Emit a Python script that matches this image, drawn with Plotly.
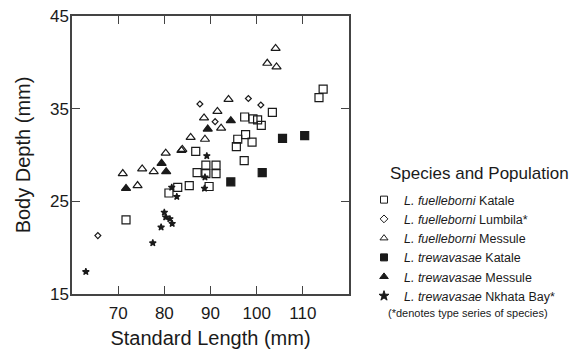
import plotly.graph_objects as go

# ---- data ----
fk_x = [71.7, 81.0, 82.9, 85.4, 86.8, 87.1, 89.0, 89.0, 91.2, 91.2, 89.7, 97.3,
        95.6, 95.9, 97.6, 99.0, 97.4, 99.2, 100.2, 101.0, 103.4, 113.5, 114.4]
fk_y = [23.0, 25.9, 26.5, 26.7, 30.4, 28.1, 28.9, 28.0, 28.9, 28.0, 26.6, 29.4,
        30.9, 31.7, 32.2, 31.4, 34.1, 33.9, 33.8, 33.2, 34.6, 36.2, 37.1]

fl_x = [65.6, 87.7, 91.0, 98.2, 100.9]
fl_y = [21.3, 35.5, 33.6, 36.1, 35.4]

fm_x = [104.1, 102.3, 104.3, 93.9, 91.5, 88.6, 92.3, 85.7, 88.8, 83.7, 83.9,
        80.3, 71.0, 75.2, 77.7, 74.2]
fm_y = [41.5, 39.9, 39.5, 36.0, 34.7, 34.0, 32.9, 31.9, 31.7, 30.5, 30.6,
        30.2, 28.0, 28.5, 28.2, 26.7]

tk_x = [94.4, 101.2, 105.6, 110.4]
tk_y = [27.1, 28.1, 31.8, 32.1]

tm_x = [71.7, 79.4, 80.4, 89.4, 94.4]
tm_y = [26.4, 29.1, 28.2, 32.8, 33.7]

tn_x = [63.0, 77.5, 79.3, 80.0, 80.3, 81.2, 81.7, 81.6, 82.7, 89.2, 88.8, 88.7]
tn_y = [17.4, 20.5, 22.2, 23.8, 23.3, 23.1, 22.6, 26.5, 25.5, 29.9, 27.6, 26.4]

names = ["<i>L. fuelleborni</i> Katale",
         "<i>L. fuelleborni</i> Lumbila*",
         "<i>L. fuelleborni</i> Messule",
         "<i>L. trewavasae</i> Katale",
         "<i>L. trewavasae</i> Messule",
         "<i>L. trewavasae</i> Nkhata Bay*"]

x_ticks = [70, 80, 90, 100, 110]
y_ticks = [15, 25, 35, 45]

FONT = "Liberation Sans, Arial, Helvetica, sans-serif"
INK = "#1a1a1a"

series = [
    (fk_x, fk_y, "square-open", 8, 7),
    (fl_x, fl_y, "diamond-open", 4.5, 6),
    (fm_x, fm_y, "triangle-up-open", 8, 7),
    (tk_x, tk_y, "square", 8, 7),
    (tm_x, tm_y, "triangle-up", 8, 7.5),
    (tn_x, tn_y, "star", 5, 7.5),
]

fig = go.Figure()
for (xs, ys, sym, size, lsize), nm in zip(series, names):
    fig.add_trace(go.Scatter(
        x=xs, y=ys, mode="markers", showlegend=False, hoverinfo="x+y",
        marker=dict(symbol=sym, size=size, color=INK, line=dict(color=INK, width=1.2)),
    ))
# legend-only entries (glyph sizes as in the reference legend)
for (xs, ys, sym, size, lsize), nm in zip(series, names):
    fig.add_trace(go.Scatter(
        x=[None], y=[None], mode="markers", name=nm, showlegend=True,
        marker=dict(symbol=sym, size=lsize, color=INK, line=dict(color=INK, width=1)),
    ))

axis_common = dict(
    showline=True, linecolor="#444", linewidth=1.5, mirror="ticks",
    ticks="inside", ticklen=8, tickwidth=1, tickcolor="#444",
    showgrid=False, zeroline=False,
    tickfont=dict(family=FONT, size=17, color=INK),
)

fig.update_xaxes(range=[60, 120], tickvals=x_ticks, **axis_common, ticklabelstandoff=3,
                 title=dict(text="Standard Length (mm)", font=dict(family=FONT, size=20, color=INK), standoff=9))
fig.update_yaxes(range=[15, 45], tickvals=y_ticks, **axis_common, ticklabelstandoff=-2,
                 title=dict(text="Body Depth (mm)", font=dict(family=FONT, size=20, color=INK), standoff=14))

def px2x(px):
    return (px - 72) / 277.0

def py2y(py):
    return (294 - py) / 278.0

fig.update_layout(
    width=580, height=351,
    margin=dict(l=72, r=231, t=16, b=57, autoexpand=False),
    paper_bgcolor="white", plot_bgcolor="white",
    font=dict(family=FONT, color=INK),
    legend=dict(x=px2x(364), y=py2y(185), xanchor="left", yanchor="top",
                font=dict(family=FONT, size=12.5, color=INK),
                bgcolor="rgba(0,0,0,0)", borderwidth=0, itemsizing="trace"),
    annotations=[
        dict(text="Species and Population", x=px2x(388), y=py2y(173.5), xref="paper", yref="paper",
             xanchor="left", yanchor="middle", showarrow=False,
             font=dict(family=FONT, size=17, color=INK)),
        dict(text="(*denotes type series of species)", x=px2x(386), y=py2y(312.5), xref="paper", yref="paper",
             xanchor="left", yanchor="middle", showarrow=False,
             font=dict(family=FONT, size=11, color=INK)),
    ],
)

fig.write_html("out.html", config={"displayModeBar": False},
               post_script="document.body.style.margin='0px';")
